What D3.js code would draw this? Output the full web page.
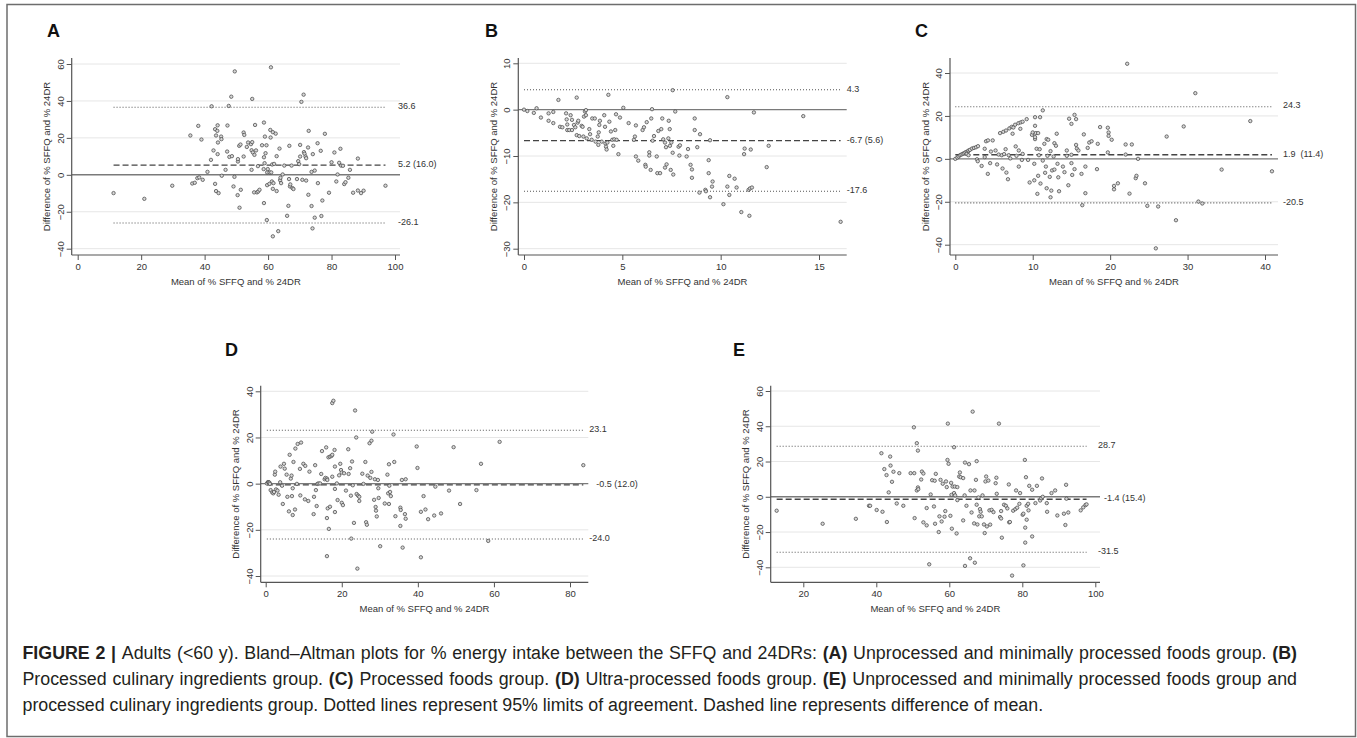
<!DOCTYPE html>
<html>
<head>
<meta charset="utf-8">
<script src="https://cdn.jsdelivr.net/npm/d3@7"></script>
<style>
  body { margin: 0; background: #fff; }
  svg text { font-family: Arial, "Liberation Sans", sans-serif; }
</style>
</head>
<body>
<div id="chart-container"></div>
<script>
// Bland-Altman: [mean of % SFFQ and % 24DR, difference]
const pointsA = [[11.3,-9.9],[21.0,-13.0],[29.8,-5.9],[35.5,21.3],[36.1,-4.7],[36.9,-4.3],[38.0,26.5],[37.7,-1.8],[38.3,-1.4],[39.0,19.1],[39.4,-2.7],[40.9,1.6],[42.0,8.1],[42.2,37.1],[42.8,13.2],[43.3,24.7],[44.0,23.8],[43.6,21.3],[44.1,26.8],[44.2,17.5],[44.1,11.2],[43.3,-4.9],[43.6,-8.8],[44.4,-9.9],[45.2,20.7],[45.3,19.3],[45.4,-0.5],[46.6,2.7],[47.2,26.7],[47.1,12.6],[47.6,37.3],[48.4,42.3],[47.8,9.7],[48.6,10.1],[49.1,-6.3],[49.4,-1.1],[49.5,56.0],[50.4,-11.0],[50.5,7.2],[50.5,8.5],[50.9,15.7],[51.0,-17.8],[51.3,16.4],[51.4,-8.1],[52.3,9.9],[52.3,22.9],[52.5,21.6],[53.3,15.1],[53.7,17.5],[54.6,16.6],[54.8,13.3],[54.8,2.7],[55.0,41.1],[55.0,17.7],[55.2,12.1],[55.6,-9.5],[55.7,10.8],[56.2,13.2],[55.9,27.0],[56.5,-9.5],[56.9,-9.0],[57.3,-8.1],[56.8,4.7],[58.1,16.0],[58.7,28.3],[58.6,3.1],[58.7,9.5],[58.9,6.3],[59.0,20.7],[59.2,11.7],[58.7,-15.3],[59.5,16.0],[59.7,1.3],[59.7,-5.6],[59.6,-24.5],[59.9,3.1],[60.5,1.3],[60.4,-4.9],[60.7,24.3],[60.8,20.2],[60.9,58.2],[61.0,1.3],[61.2,-3.6],[61.3,5.6],[61.5,23.1],[61.5,-7.6],[61.5,-33.3],[61.7,-4.5],[61.9,5.9],[62.4,22.3],[62.7,10.1],[62.7,-8.8],[63.2,-30.5],[63.6,14.2],[63.8,-2.9],[63.9,-1.6],[64.1,-4.5],[64.6,0.2],[65.1,5.0],[66.0,-22.2],[66.4,-16.8],[66.6,-2.3],[66.7,15.7],[66.9,-6.3],[67.0,-5.2],[67.4,5.0],[67.7,-7.2],[68.0,-7.7],[69.1,-2.3],[69.5,7.4],[69.8,5.8],[70.1,9.9],[70.1,16.2],[70.5,39.5],[70.8,-2.7],[71.2,43.4],[71.3,12.3],[71.5,11.4],[71.8,9.9],[72.0,9.0],[72.0,-3.1],[72.6,14.8],[72.7,-10.8],[72.8,23.8],[73.7,-16.9],[73.7,1.6],[74.1,11.2],[74.0,-29.0],[74.7,2.3],[74.7,-23.2],[75.6,17.1],[75.7,-4.5],[76.6,13.0],[76.8,-22.3],[77.1,-13.9],[77.9,22.2],[79.2,-9.7],[80.0,6.8],[80.9,12.1],[81.5,-3.6],[81.9,0.2],[82.4,6.5],[82.8,14.1],[83.0,5.0],[83.6,4.9],[84.0,-5.0],[84.4,-4.0],[85.3,-1.6],[85.8,2.7],[86.8,-9.7],[88.3,8.8],[88.3,-8.5],[89.3,-9.9],[90.1,-8.6],[97.0,-5.9]];

const pointsB = [[0,0],[0.17,-0.3],[0.5,-0.7],[0.64,0.3],[0.86,-1.7],[1.25,-0.8],[1.25,-2.4],[1.49,-0.5],[1.49,-2.9],[1.75,2.1],[1.83,-3.7],[1.95,-3.8],[2.14,-0.8],[2.17,-2.1],[2.2,-3.2],[2.2,-4.4],[2.3,-4.4],[2.37,-1.2],[2.44,-2.2],[2.44,-4.4],[2.54,-3.3],[2.61,-3.8],[2.68,2.6],[2.68,-5.5],[2.73,-2.8],[2.76,-2.4],[2.81,-5.7],[2.93,-3.5],[2.98,-3.7],[3.02,-5.8],[3.05,-1.5],[3.1,-0.4],[3.15,-0.1],[3.15,-1.2],[3.19,-6.2],[3.32,-4.2],[3.36,-5.3],[3.44,-6.5],[3.47,-1.9],[3.6,-1.9],[3.64,-6.9],[3.75,-5.8],[3.78,-7.6],[3.8,-4.9],[3.83,-3.3],[3.86,-2.4],[3.95,-6.9],[4.08,-1.2],[4.12,-3.7],[4.14,-7.3],[4.17,-8.0],[4.2,-8.6],[4.24,-7.1],[4.29,3.2],[4.34,-2.6],[4.42,-4.7],[4.49,-6.5],[4.54,-7.8],[4.59,-6.4],[4.64,-4.4],[4.68,-1.0],[4.71,-6.5],[4.8,-9.6],[4.88,-1.7],[5.05,0.4],[5.32,-2.9],[5.59,-6.5],[5.64,-5.8],[5.69,-3.4],[5.69,-10.1],[5.81,-11.0],[6.03,-4.4],[6.1,-3.8],[6.17,-11.9],[6.19,-12.3],[6.24,-2.7],[6.37,-9.2],[6.37,-9.9],[6.44,-13.0],[6.47,-1.9],[6.51,0.1],[6.54,-6.7],[6.61,-5.7],[6.75,-10.1],[6.78,-13.7],[6.83,-4.6],[6.92,-13.7],[6.98,-4.2],[7.03,-1.9],[7.08,-6.4],[7.17,-7.1],[7.17,-12.5],[7.22,-8.1],[7.25,-11.8],[7.34,-6.2],[7.36,-2.4],[7.41,-4.2],[7.42,-7.8],[7.46,-13.0],[7.49,-7.1],[7.56,-9.3],[7.56,4.2],[7.59,-14.0],[7.69,-0.4],[7.86,-8.0],[7.9,-9.9],[7.93,-7.7],[8.27,-10.1],[8.34,-8.5],[8.47,-11.9],[8.54,-12.9],[8.54,-14.7],[8.68,-1.9],[8.68,-4.4],[8.81,-8.1],[8.92,-17.9],[8.95,-5.3],[9.22,-17.3],[9.25,-17.6],[9.39,-10.9],[9.39,-13.7],[9.46,-6.6],[9.46,-18.9],[9.56,-16.6],[9.59,-15.5],[10.14,-20.4],[10.34,2.7],[10.34,-16.6],[10.44,-14.3],[10.44,-18.4],[10.71,-14.9],[10.81,-16.8],[11.05,-22.1],[11.19,-9.6],[11.22,-8.4],[11.42,-17.3],[11.46,-22.9],[11.49,-17.0],[11.53,-8.6],[11.59,-16.8],[11.69,-0.6],[12.34,-12.4],[12.44,-7.8],[14.2,-1.4],[16.1,-24.2]];

const pointsC = [[0,0],[0.26,0.6],[0.43,1.1],[0.6,1.7],[0.78,2.0],[0.95,2.3],[1.12,2.6],[1.29,3.0],[1.47,3.3],[1.64,3.4],[1.72,3.9],[1.9,4.2],[2.16,4.8],[2.41,5.1],[2.67,5.4],[2.93,5.9],[1.47,2.3],[1.7,1.7],[3.97,8.2],[4.22,8.6],[4.83,8.6],[5.78,12.0],[6.2,12.6],[6.55,13.2],[6.98,14.2],[7.28,14.9],[7.5,14.6],[7.72,15.9],[8.15,16.6],[8.45,17.0],[8.7,17.3],[9.22,18.5],[10.3,19.4],[10.95,19.4],[11.3,22.6],[2.8,-0.2],[2.9,-1.1],[3.4,-3.3],[3.8,4.7],[3.8,0.8],[4.2,-7.0],[4.5,-2.0],[4.6,3.4],[5.2,3.9],[5.4,-2.6],[5.6,2.0],[6.0,1.7],[6.1,-4.5],[6.3,2.2],[6.5,4.5],[6.6,-6.4],[6.8,-9.5],[6.9,1.7],[7.1,0.2],[7.4,11.7],[7.8,5.8],[7.9,1.4],[8.2,-3.6],[8.2,3.9],[8.4,14.0],[8.6,-0.5],[8.7,2.3],[9.4,-0.5],[9.6,-11.0],[9.9,11.2],[10.0,12.3],[10.2,-10.0],[10.2,-2.3],[10.3,9.2],[10.3,10.1],[10.3,15.4],[10.4,12.0],[10.5,4.7],[10.6,-16.3],[10.7,-7.9],[10.7,12.0],[10.8,1.7],[10.9,4.5],[11.0,-11.5],[11.3,-0.8],[11.5,7.0],[11.6,-6.5],[11.7,-3.6],[11.8,9.2],[11.8,-13.7],[11.9,1.4],[12.0,8.9],[12.2,-8.4],[12.3,3.6],[12.3,-17.9],[12.4,-14.8],[12.5,-5.4],[12.7,1.1],[12.8,-5.0],[12.8,7.3],[13.0,6.1],[13.1,11.7],[13.2,-2.3],[13.3,-8.6],[13.4,-15.1],[13.9,-3.6],[14.1,-6.2],[14.4,1.4],[14.4,3.9],[14.6,-12.3],[14.7,18.7],[15.0,16.3],[15.0,-2.0],[15.0,1.9],[15.1,-7.5],[15.4,-4.8],[15.4,20.5],[15.6,6.5],[15.6,18.5],[15.7,4.8],[15.9,3.9],[16.3,-7.0],[16.4,-21.6],[16.6,11.4],[16.8,-3.6],[16.8,-16.0],[17.1,5.1],[17.3,7.6],[17.6,8.2],[18.3,-4.8],[18.4,7.0],[18.7,14.8],[19.7,3.0],[19.7,14.5],[19.8,12.3],[19.8,10.7],[20.2,8.9],[20.5,-12.6],[20.5,-14.2],[21.0,-11.4],[22.0,6.7],[22.0,2.0],[22.2,44.3],[22.5,-16.2],[22.8,6.7],[23.3,-9.0],[23.4,-7.9],[23.6,0],[24.5,-11.4],[24.8,-21.9],[25.9,-41.7],[26.2,-22.2],[27.3,10.4],[28.5,-28.6],[29.5,15.1],[31.0,30.6],[31.4,-19.9],[31.9,-20.8],[34.4,-5.0],[38.1,17.6],[40.9,-5.8]];

const pointsD = [[0.3,0.1],[0.6,0.7],[0.8,0.6],[1.0,0.4],[1.1,-0.1],[1.3,-2.8],[1.7,-3.8],[2.0,-4.2],[2.2,-3.6],[2.4,3.9],[2.5,5.2],[2.7,-2.5],[3.1,-3.0],[3.4,-4.8],[3.8,0.6],[3.9,7.4],[4.3,-0.9],[4.5,-8.8],[4.8,8.6],[5.0,6.5],[5.5,3.9],[5.7,-5.7],[6.1,-12.0],[6.3,12.5],[6.6,2.2],[6.8,3.5],[6.9,-5.4],[7.1,-13.6],[7.1,-2.0],[7.3,9.4],[7.7,-11.2],[7.8,15.2],[8.2,-0.1],[8.4,17.2],[9.0,6.4],[9.1,-5.1],[9.3,17.8],[9.9,8.6],[10.3,-6.8],[10.4,7.7],[11.2,-7.5],[11.5,5.2],[12.6,-13.2],[12.7,-5.7],[13.0,8.0],[13.2,-2.8],[13.4,-9.7],[13.6,-0.1],[13.9,0.1],[14.3,0.1],[14.6,4.2],[14.8,14.1],[15.5,1.9],[15.7,2.5],[15.9,15.7],[16.1,2.2],[16.1,-31.4],[16.1,-14.9],[16.2,1.6],[16.3,-10.7],[16.5,11.4],[16.6,-19.6],[16.9,-10.0],[16.9,11.7],[17.3,12.0],[17.5,3.0],[17.5,34.9],[17.5,12.5],[17.8,35.9],[18.1,14.6],[18.2,7.4],[18.2,-2.3],[18.2,-12.3],[18.7,0.1],[18.9,-7.1],[19.3,3.6],[19.6,8.6],[19.8,5.9],[20.0,4.8],[20.0,-8.3],[20.3,-9.3],[20.6,4.5],[21.1,-3.0],[21.7,14.9],[21.8,4.2],[22.2,6.7],[22.4,-5.2],[22.5,-23.8],[22.7,9.6],[22.9,-0.7],[23.2,-17.0],[23.5,31.7],[23.8,20.0],[23.9,-4.5],[24.1,-36.8],[24.3,-5.2],[24.6,-5.7],[24.6,-7.5],[25.4,4.3],[25.7,-0.1],[26.2,9.4],[26.4,-16.7],[26.6,-17.8],[26.8,3.5],[27.3,17.5],[27.5,2.5],[27.8,5.1],[27.8,18.6],[28.0,22.5],[28.5,-7.0],[28.7,1.9],[28.9,-10.1],[29.0,-11.7],[29.2,-14.2],[29.5,1.6],[29.6,-2.0],[29.7,-6.2],[30.1,-27.1],[31.3,-8.6],[32.0,3.9],[32.2,-4.2],[32.4,8.4],[32.4,-8.8],[32.5,-0.9],[32.7,-3.6],[32.9,-5.4],[33.6,21.3],[33.8,9.4],[34.1,-14.1],[35.4,-18.3],[35.4,-10.4],[35.5,-11.4],[35.8,1.6],[36.0,-27.7],[36.6,-13.2],[36.8,1.9],[36.8,-15.2],[39.7,16.1],[39.9,6.8],[40.8,-12.2],[40.8,-31.9],[41.5,-5.4],[42.0,-11.2],[42.7,-15.4],[44.3,-13.8],[44.6,-1.3],[46.1,-12.9],[48.2,-3.0],[49.4,15.8],[51.1,-8.8],[55.4,-2.8],[56.6,8.6],[58.5,-24.8],[61.5,18.1],[83.5,8.0]];

const pointsE = [[12.7,-7.9],[25.3,-15.3],[34.4,-12.5],[38.0,-5.1],[38.3,-5.1],[40.1,-7.5],[41.4,24.7],[41.7,-8.5],[42.2,15.7],[42.8,12.3],[42.9,-14.3],[43.4,2.5],[43.8,22.8],[43.9,17.7],[44.3,8.5],[44.7,14.2],[45.6,-3.8],[46.3,13.4],[47.4,-5.1],[49.4,13.4],[50.3,39.4],[50.4,13.4],[50.5,-12.1],[51.1,30.4],[51.1,3.6],[51.4,26.2],[51.4,5.3],[51.5,4.3],[52.3,9.8],[52.5,14.3],[52.9,13.2],[52.9,-14.5],[53.8,-16.2],[53.8,-6.4],[54.9,1.3],[54.5,-38.3],[55.3,9.4],[55.8,-5.5],[56.0,9.1],[56.1,-15.3],[56.3,13.0],[57.1,-20.0],[57.3,-11.1],[57.6,9.6],[57.9,-14.0],[58.2,7.4],[58.7,-11.3],[58.9,-8.1],[59.1,8.7],[59.3,5.5],[59.5,20.9],[59.6,41.5],[59.8,18.7],[60.3,-10.8],[60.5,7.9],[60.6,1.1],[60.7,-18.1],[60.9,5.8],[61.3,28.1],[61.3,2.1],[61.5,5.8],[61.6,0.8],[62.0,-20.8],[62.2,5.5],[62.2,-1.9],[62.7,11.5],[62.9,13.8],[63.1,11.1],[63.8,-13.4],[63.8,10.6],[64.2,0.8],[64.3,19.4],[64.3,-39.2],[64.7,-5.1],[65.4,18.5],[65.7,-34.9],[65.8,3.6],[66.1,-8.9],[66.4,48.3],[66.8,-15.1],[66.9,3.6],[67.0,-37.4],[67.3,9.6],[67.5,20.2],[67.5,-4.5],[67.7,-15.7],[68.0,-0.4],[68.2,-11.1],[68.4,-7.0],[68.6,-8.5],[68.9,-11.1],[69.1,0.8],[69.5,-15.7],[69.7,-20.6],[69.9,8.7],[70.1,11.5],[70.3,-16.8],[70.7,9.2],[71.0,-7.7],[71.2,-15.8],[71.6,-7.4],[72.1,-8.7],[72.7,7.7],[72.9,10.8],[73.0,1.7],[73.6,41.5],[73.9,-11.5],[74.2,-12.3],[74.2,-8.1],[74.4,-23.2],[75.0,-4.5],[75.5,-5.1],[75.9,-6.6],[76.3,7.0],[76.4,-14.5],[76.6,-14.3],[77.2,-44.7],[77.5,-7.9],[78.1,-7.0],[78.3,3.6],[78.6,-6.2],[79.2,-4.0],[79.4,2.1],[80.1,-10.2],[80.3,-9.6],[80.3,-38.9],[80.7,20.9],[80.8,-17.5],[80.8,-26.0],[81.0,11.1],[81.2,-5.1],[81.2,-13.0],[81.6,-4.0],[81.7,-7.7],[81.9,6.2],[82.7,4.0],[82.7,-22.5],[83.6,-3.6],[84.0,6.2],[84.9,-2.1],[85.2,-0.8],[85.4,10.4],[85.6,0.0],[86.7,-3.6],[86.8,-8.5],[88.0,2.1],[89.0,3.6],[89.6,-10.6],[91.4,-9.6],[91.8,-16.0],[92.0,6.8],[92.1,-1.1],[92.6,-8.9],[96.0,-7.7],[96.7,-6.0],[97.3,-4.7],[97.6,-4.3]];

// limits of agreement: [upper, mean, lower] and their labels
const linesA = [36.6, 5.2, -26.1];
const labelsA = ["36.6", "5.2 (16.0)", "-26.1"];
const linesB = [4.3, -6.7, -17.6];
const labelsB = ["4.3", "-6.7 (5.6)", "-17.6"];
const linesC = [24.3, 1.9, -20.5];
const labelsC = ["24.3", "1.9  (11.4)", "-20.5"];
const linesD = [23.1, -0.5, -24.0];
const labelsD = ["23.1", "-0.5 (12.0)", "-24.0"];
const linesE = [28.7, -1.4, -31.5];
const labelsE = ["28.7", "-1.4 (15.4)", "-31.5"];

// tick values
const xTicksA = [0, 20, 40, 60, 80, 100], yTicksA = [-40, -20, 0, 20, 40, 60];
const xTicksB = [0, 5, 10, 15], yTicksB = [-30, -20, -10, 0, 10];
const xTicksC = [0, 10, 20, 30, 40], yTicksC = [-40, -20, 0, 20, 40];
const xTicksD = [0, 20, 40, 60, 80], yTicksD = [-40, -20, 0, 20, 40];
const xTicksE = [20, 40, 60, 80, 100], yTicksE = [-40, -20, 0, 20, 40, 60];

const xTitle = "Mean of % SFFQ and % 24DR";
const yTitle = "Difference of % SFFQ and % 24DR";

const svg = d3.select("#chart-container")
    .append("svg")
    .attr("width", 1357)
    .attr("height", 738);

// frame round the whole figure
svg.append("rect")
    .attr("x", 7).attr("y", 4.5)
    .attr("width", 1348.5).attr("height", 732)
    .attr("fill", "none")
    .attr("stroke", "#6d6d6d")
    .attr("stroke-width", 1.5);

function drawPanel(p) {
    const g = svg.append("g");
    const x = d3.scaleLinear().domain(p.xDom).range(p.xRange);
    const y = d3.scaleLinear().domain(p.yDom).range(p.yRange);
    const b = p.box;

    // letter
    g.append("text")
        .attr("x", p.letter[0]).attr("y", p.letter[1])
        .attr("font-size", "18px").attr("font-weight", "bold")
        .attr("fill", "#111")
        .text(p.name);

    // grid lines
    g.selectAll(".grid").data(p.yTicks.filter(d => d !== 0)).enter()
        .append("line")
        .attr("x1", b.l).attr("x2", b.r)
        .attr("y1", d => y(d)).attr("y2", d => y(d))
        .attr("stroke", "#e6e6e6").attr("stroke-width", 1);

    // zero line
    g.append("line")
        .attr("x1", b.l).attr("x2", b.r)
        .attr("y1", y(0)).attr("y2", y(0))
        .attr("stroke", "#7a7a7a").attr("stroke-width", 1.4);

    // limits and mean difference, spanning the data
    const ext = d3.extent(p.points, d => d[0]);
    g.selectAll(".ref").data(p.lines).enter()
        .append("line")
        .attr("x1", x(ext[0])).attr("x2", x(ext[1]))
        .attr("y1", d => y(d)).attr("y2", d => y(d))
        .attr("stroke", (d, i) => i === 1 ? "#444" : "#555")
        .attr("stroke-width", (d, i) => i === 1 ? 1.3 : 1.1)
        .attr("stroke-dasharray", (d, i) => i === 1 ? "6,3" : "1,2");

    g.selectAll(".reflab").data(p.lines).enter()
        .append("text")
        .attr("x", (d, i) => b.r + p.labelDx + (i === 1 ? p.meanDx : 0))
        .attr("y", d => y(d))
        .attr("dy", "0.2em")
        .attr("font-size", "9px")
        .attr("fill", "#333")
        .attr("xml:space", "preserve")
        .text((d, i) => p.labels[i]);

    // points
    g.selectAll("circle").data(p.points).enter()
        .append("circle")
        .attr("cx", d => x(d[0]))
        .attr("cy", d => y(d[1]))
        .attr("r", 1.7)
        .attr("fill", "#d6d6d6")
        .attr("stroke", "#4a4a4a")
        .attr("stroke-width", 0.75);

    // axes
    const ax = g.append("g")
        .attr("transform", `translate(0, ${b.b})`)
        .call(d3.axisBottom(x).tickValues(p.xTicks).tickSize(5).tickSizeOuter(0));
    const ay = g.append("g")
        .attr("transform", `translate(${b.l}, 0)`)
        .call(d3.axisLeft(y).tickValues(p.yTicks).tickSize(5).tickSizeOuter(0));
    [ax, ay].forEach(a => {
        a.select(".domain").remove();
        a.selectAll("line").attr("stroke", "#555");
        a.selectAll("text").attr("font-size", "9.5px").attr("fill", "#333")
            .style("font-family", "Arial, 'Liberation Sans', sans-serif");
    });
    ay.selectAll("text")
        .attr("x", null).attr("dy", null)
        .attr("text-anchor", "middle")
        .attr("transform", "translate(-8,0) rotate(-90)");

    g.append("line")
        .attr("x1", b.l).attr("x2", b.l).attr("y1", b.t).attr("y2", b.b)
        .attr("stroke", "#555").attr("stroke-width", 1.2);
    g.append("line")
        .attr("x1", b.l).attr("x2", b.r).attr("y1", b.b).attr("y2", b.b)
        .attr("stroke", "#555").attr("stroke-width", 1.2);

    // axis titles
    g.append("text")
        .attr("x", (b.l + b.r) / 2).attr("y", b.b + 29.5)
        .attr("text-anchor", "middle")
        .attr("font-size", "9.5px").attr("fill", "#333")
        .text(xTitle);
    g.append("text")
        .attr("transform", `translate(${b.l - 21.5}, ${(b.t + b.b) / 2}) rotate(-90)`)
        .attr("text-anchor", "middle")
        .attr("font-size", "9.5px").attr("fill", "#333")
        .text(yTitle);
}

drawPanel({ name: "A", letter: [47, 37], points: pointsA, lines: linesA, labels: labelsA,
    xTicks: xTicksA, yTicks: yTicksA, xDom: [0, 100], xRange: [77.7, 395], yDom: [-40, 60], yRange: [248.7, 64],
    box: { l: 71.7, r: 400, t: 58, b: 255 }, labelDx: -2, meanDx: 0 });
drawPanel({ name: "B", letter: [485, 37], points: pointsB, lines: linesB, labels: labelsB,
    xTicks: xTicksB, yTicks: yTicksB, xDom: [0, 15], xRange: [524, 819], yDom: [-30, 10], yRange: [248.7, 63.3],
    box: { l: 518.3, r: 846.7, t: 58, b: 255 }, labelDx: 0, meanDx: 0 });
drawPanel({ name: "C", letter: [915, 37], points: pointsC, lines: linesC, labels: labelsC,
    xTicks: xTicksC, yTicks: yTicksC, xDom: [0, 40], xRange: [955.3, 1265], yDom: [-40, 40], yRange: [244.7, 73],
    box: { l: 950, r: 1278, t: 58, b: 255 }, labelDx: 5, meanDx: 0 });
drawPanel({ name: "D", letter: [225, 356], points: pointsD, lines: linesD, labels: labelsD,
    xTicks: xTicksD, yTicks: yTicksD, xDom: [0, 80], xRange: [265.7, 570], yDom: [-40, 40], yRange: [576, 391.3],
    box: { l: 260.7, r: 588.3, t: 385.7, b: 582.3 }, labelDx: 1, meanDx: 7 });
drawPanel({ name: "E", letter: [733, 356], points: pointsE, lines: linesE, labels: labelsE,
    xTicks: xTicksE, yTicks: yTicksE, xDom: [20, 100], xRange: [803.3, 1095.3], yDom: [-40, 60], yRange: [567.3, 391],
    box: { l: 770.7, r: 1100, t: 385.7, b: 582.3 }, labelDx: -2, meanDx: 6 });

// caption: justified like the journal layout (last line left ragged)
const captionLines = [
    [["FIGURE 2 | ", true], ["Adults (<60 y). Bland–Altman plots for % energy intake between the SFFQ and 24DRs: ", false], ["(A)", true], [" Unprocessed and minimally processed foods group. ", false], ["(B)", true]],
    [["Processed culinary ingredients group. ", false], ["(C)", true], [" Processed foods group. ", false], ["(D)", true], [" Ultra-processed foods group. ", false], ["(E)", true], [" Unprocessed and minimally processed foods group and", false]],
    [["processed culinary ingredients group. Dotted lines represent 95% limits of agreement. Dashed line represents difference of mean.", false]]
];
const captionX = 22.5, justifyTo = 1297;

// size the font so that "...represents differe" on the last line ends near x=941
const probe = svg.append("text").attr("font-size", "14px")
    .text("processed culinary ingredients group. Dotted lines represent 95% limits of agreement. Dashed line represents differe");
const capSize = 14 * (941 - captionX) / probe.node().getComputedTextLength();
probe.remove();

captionLines.forEach((line, i) => {
    const t = svg.append("text")
        .attr("x", captionX).attr("y", 659 + i * 26)
        .attr("font-size", capSize + "px")
        .attr("fill", "#231f20")
        .attr("xml:space", "preserve");
    line.forEach(part => {
        t.append("tspan")
            .attr("font-weight", part[1] ? "bold" : "normal")
            .text(part[0]);
    });
    if (i < captionLines.length - 1) {
        const full = line.map(p => p[0]).join("");
        const spaces = (full.match(/ /g) || []).length;
        const extra = (justifyTo - captionX - t.node().getComputedTextLength()) / spaces;
        t.style("word-spacing", extra + "px");
    }
});
</script>
</body>
</html>
